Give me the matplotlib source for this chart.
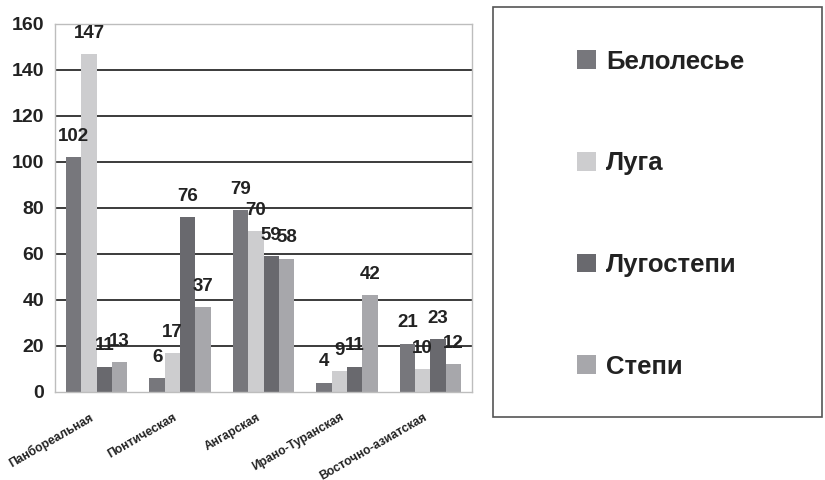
import matplotlib
matplotlib.use("Agg")
import matplotlib.pyplot as plt
import numpy as np
from matplotlib.patches import Rectangle

categories = ["Панбореальная", "Понтическая", "Ангарская", "Ирано-Туранская", "Восточно-азиатская"]
series_names = ["Белолесье", "Луга", "Лугостепи", "Степи"]
belolesye = [102, 6, 79, 4, 21]
luga = [147, 17, 70, 9, 10]
lugostepi = [11, 76, 59, 11, 23]
stepi = [13, 37, 58, 42, 12]
series_values = [belolesye, luga, lugostepi, stepi]
colors = ["#77777c", "#cdcdcf", "#69696e", "#a7a7ab"]
y_ticks = [0, 20, 40, 60, 80, 100, 120, 140, 160]

plt.rcParams['font.family'] = ['Liberation Sans', 'DejaVu Sans']
text_color = "#222222"

fig = plt.figure(figsize=(8.25, 4.8), dpi=100)
ax = fig.add_axes([55/825, 1-392/480, (472-55)/825, (392-24)/480])

x = np.arange(len(categories))
w = 0.184
handles = []
for i, (name, vals, c) in enumerate(zip(series_names, series_values, colors)):
    xs = x + (i - 1.5) * w
    b = ax.bar(xs, vals, width=w, color=c, label=name, zorder=2)
    handles.append(b)
    for xi, v in zip(xs, vals):
        ax.annotate(str(v), (xi, v), xytext=(0, 15), textcoords="offset points",
                    ha="center", va="center", fontsize=13.5, fontweight="bold",
                    color=text_color, zorder=3)

for t in y_ticks[1:-1]:
    ax.axhline(t, color="#1a1a1a", lw=1.2, zorder=0.5)

ax.set_xlim(-0.5, len(categories) - 0.5)
ax.set_ylim(0, 160)
ax.set_yticks(y_ticks)
ax.set_yticklabels([str(t) for t in y_ticks], fontsize=14, fontweight="bold", color=text_color)
ax.set_xticks(x)
ax.set_xticklabels([])
for xi, cat in zip(x, categories):
    ax.annotate(cat, (xi, 0), xycoords=("data", "axes fraction"),
                xytext=(-7, -19), textcoords="offset pixels",
                rotation=30, ha="right", va="top", rotation_mode="anchor",
                fontsize=8.7, fontweight="bold", color=text_color,
                annotation_clip=False)
ax.tick_params(axis="both", length=0)
ax.tick_params(axis="y", pad=8)
for s in ax.spines.values():
    s.set_color("#bdbdbd")
    s.set_linewidth(1.0)

# legend box
fig.patches.append(Rectangle((493/825, 1-417/480), (822-493)/825, (417-7)/480,
                             transform=fig.transFigure, fill=False,
                             edgecolor="#555555", lw=1.2))
leg = fig.legend(handles=handles, labels=series_names, loc="upper left",
                 bbox_to_anchor=(564/825, 1-37/480), frameon=False,
                 prop={"weight": "bold", "size": 18.5}, labelspacing=3.02,
                 handlelength=0.75, handleheight=0.75, handletextpad=0.4,
                 borderpad=0)
for t in leg.get_texts():
    t.set_color(text_color)

fig.savefig("out.png", dpi=100, facecolor="white")
